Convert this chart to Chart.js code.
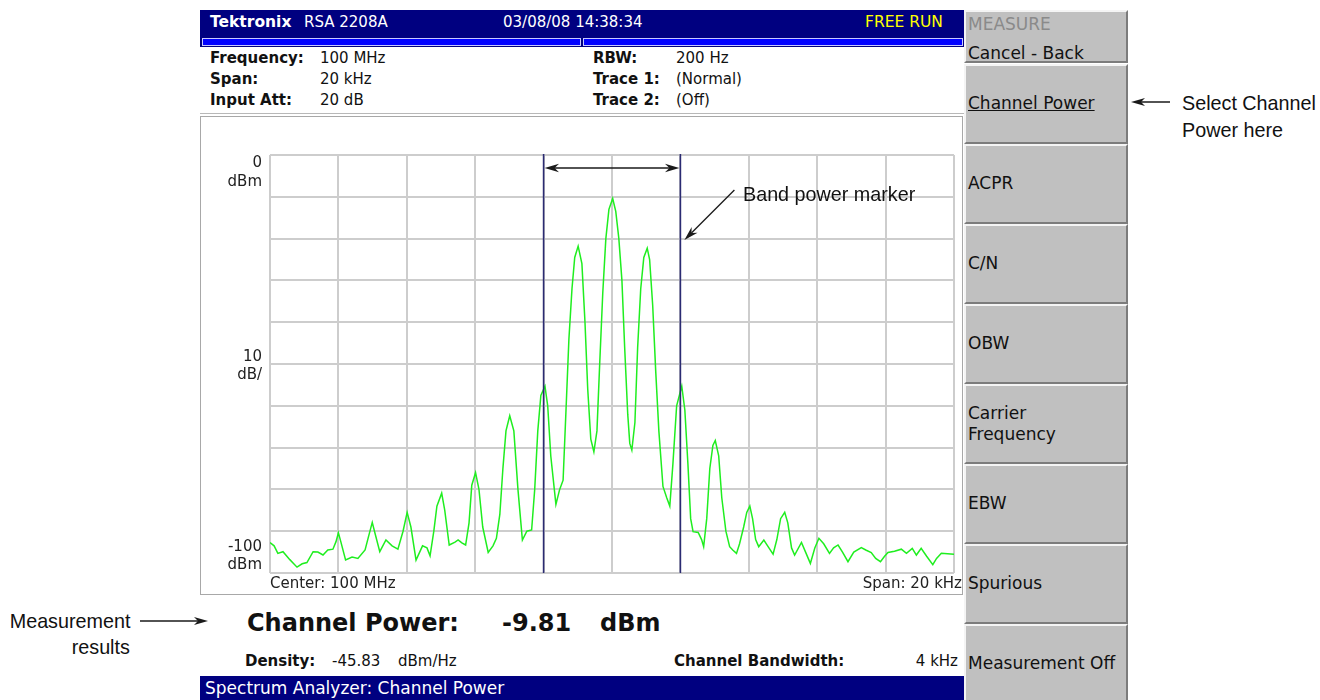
<!DOCTYPE html>
<html>
<head>
<meta charset="utf-8">
<script src="https://cdn.jsdelivr.net/npm/chart.js@4.4.1/dist/chart.umd.min.js"></script>
<style>
body{margin:0;background:#fff;width:1320px;height:700px;position:relative;overflow:hidden;font-family:"DejaVu Sans",sans-serif;color:#111;}
.t{position:absolute;white-space:nowrap;line-height:1;}
.b{font-weight:bold;}
.bar{position:absolute;background:#000080;}
.btn{position:absolute;left:964px;width:164px;background:#c0c0c0;box-sizing:border-box;border-top:2px solid #f4f4f4;border-left:2px solid #f4f4f4;border-right:2px solid #7c7c7c;border-bottom:2px solid #7c7c7c;display:flex;align-items:center;}
.btn span{margin-left:2px;font-size:17px;line-height:1.25;color:#111;}
.ann{position:absolute;white-space:nowrap;font-family:"Liberation Sans",sans-serif;font-size:21px;line-height:1;color:#111;transform:scaleX(0.94);transform-origin:left center;}
.annr{transform-origin:right center;}
.info{font-size:15px;}
#frame{position:absolute;left:200px;top:116px;width:761px;height:477px;border:1px solid #a8a8a8;background:#fff;}
#diagram{position:absolute;left:202px;top:118px;}
</style>
</head>
<body>
<!-- title bar -->
<div class="bar" style="left:200px;top:10px;width:764px;height:37px;"></div>
<div style="position:absolute;left:202px;top:38px;width:377px;height:6px;background:#0000ff;border:1px solid #c8c8ff;"></div>
<div style="position:absolute;left:583px;top:38px;width:378px;height:6px;background:#0000ff;border:1px solid #c8c8ff;"></div>
<div class="t b" style="left:210px;top:15px;font-size:15.5px;color:#fff;">Tektronix</div>
<div class="t" style="left:304px;top:15px;font-size:15px;color:#fff;">RSA 2208A</div>
<div class="t" style="left:503px;top:15px;font-size:15px;color:#fff;">03/08/08 14:38:34</div>
<div class="t" style="left:865px;top:15px;font-size:15.5px;color:#ffff00;">FREE RUN</div>

<!-- info panel -->
<div class="t info b" style="left:210px;top:51px;">Frequency:</div>
<div class="t info" style="left:320px;top:51px;">100 MHz</div>
<div class="t info b" style="left:210px;top:72px;">Span:</div>
<div class="t info" style="left:320px;top:72px;">20 kHz</div>
<div class="t info b" style="left:210px;top:93px;">Input Att:</div>
<div class="t info" style="left:320px;top:93px;">20 dB</div>
<div class="t info b" style="left:593px;top:51px;">RBW:</div>
<div class="t info" style="left:676px;top:51px;">200 Hz</div>
<div class="t info b" style="left:593px;top:72px;">Trace 1:</div>
<div class="t info" style="left:676px;top:72px;">(Normal)</div>
<div class="t info b" style="left:593px;top:93px;">Trace 2:</div>
<div class="t info" style="left:676px;top:93px;">(Off)</div>
<div style="position:absolute;left:200px;top:113px;width:764px;height:1px;background:#b8b8b8;"></div>

<!-- graph -->
<div id="frame"></div>
<canvas id="diagram" width="760" height="476"></canvas>
<div class="t" style="left:270px;top:576px;font-size:15px;color:#222;">Center: 100 MHz</div>
<div class="t" style="right:358px;top:576px;font-size:15px;color:#222;">Span: 20 kHz</div>

<!-- measurement results -->
<div class="t b" style="left:247px;top:611px;font-size:24px;">Channel Power:</div>
<div class="t b" style="left:502px;top:611px;font-size:24px;">-9.81</div>
<div class="t b" style="left:600px;top:611px;font-size:24px;">dBm</div>
<div class="t b" style="left:245px;top:654px;font-size:15px;">Density:</div>
<div class="t" style="left:332px;top:654px;font-size:15px;">-45.83</div>
<div class="t" style="left:398px;top:654px;font-size:15px;">dBm/Hz</div>
<div class="t b" style="left:674px;top:654px;font-size:15px;">Channel Bandwidth:</div>
<div class="t" style="right:362px;top:654px;font-size:15px;">4 kHz</div>
<div class="bar" style="left:200px;top:676px;width:764px;height:24px;"></div>
<div class="t" style="left:205px;top:680px;font-size:17px;color:#fff;">Spectrum Analyzer: Channel Power</div>

<!-- side menu -->
<div class="btn" style="top:10px;height:53px;display:block;">
  <div class="t" style="left:2px;top:4px;font-size:17px;color:#8a8a8a;">MEASURE</div>
  <div class="t" style="left:2px;top:33px;font-size:17px;color:#111;">Cancel - Back</div>
</div>
<div class="btn" style="top:64px;height:80px;"><span style="text-decoration:underline;">Channel Power</span></div>
<div class="btn" style="top:144px;height:80px;"><span>ACPR</span></div>
<div class="btn" style="top:224px;height:80px;"><span>C/N</span></div>
<div class="btn" style="top:304px;height:80px;"><span>OBW</span></div>
<div class="btn" style="top:384px;height:80px;"><span>Carrier<br>Frequency</span></div>
<div class="btn" style="top:464px;height:80px;"><span>EBW</span></div>
<div class="btn" style="top:544px;height:80px;"><span>Spurious</span></div>
<div class="btn" style="top:624px;height:80px;"><span>Measurement Off</span></div>

<!-- callouts -->
<div class="ann" style="left:1182px;top:92px;">Select Channel</div>
<div class="ann" style="left:1182px;top:119px;">Power here</div>
<div class="ann annr" style="right:1190px;top:610px;">Measurement</div>
<div class="ann annr" style="right:1190px;top:636px;">results</div>
<div class="ann" style="left:743px;top:183px;">Band power marker</div>
<svg style="position:absolute;left:0;top:0;" width="1320" height="700">
  <line x1="1170" y1="102" x2="1140" y2="102" stroke="#1a1a1a" stroke-width="1.5"/>
  <polygon points="1131,102 1145,98 1141,102 1145,106" fill="#1a1a1a"/>
  <line x1="140" y1="621" x2="198" y2="621" stroke="#1a1a1a" stroke-width="1.5"/>
  <polygon points="208,621 194,617 198,621 194,625" fill="#1a1a1a"/>
</svg>

<script>
// trace, kHz offset from center vs dBm
const freqKHz = [
  -10.00, -9.88, -9.77, -9.62, -9.42, -9.21, -9.06, -8.92, -8.74, -8.60,
  -8.45, -8.31, -8.16, -8.07, -8.00, -7.93, -7.79, -7.60, -7.43, -7.22,
  -7.11, -7.01, -6.93, -6.79, -6.61, -6.43, -6.26, -6.11, -5.99, -5.88,
  -5.73, -5.54, -5.41, -5.32, -5.21, -5.12, -4.98, -4.89, -4.76, -4.59,
  -4.50, -4.39, -4.28, -4.18, -4.10, -3.99, -3.89, -3.78, -3.62, -3.48,
  -3.38, -3.28, -3.19, -3.10, -2.99, -2.87, -2.75, -2.62, -2.49, -2.35,
  -2.26, -2.17, -2.08, -1.96, -1.88, -1.79, -1.64, -1.53, -1.43, -1.35,
  -1.26, -1.17, -1.09, -0.99, -0.88, -0.79, -0.71, -0.62, -0.53, -0.44,
  -0.36, -0.27, -0.18, -0.09, 0.02, 0.11, 0.20, 0.29, 0.37, 0.46,
  0.52, 0.58, 0.67, 0.75, 0.84, 0.93, 1.03, 1.10, 1.19, 1.28,
  1.37, 1.49, 1.60, 1.69, 1.78, 1.89, 2.04, 2.13, 2.22, 2.30,
  2.37, 2.52, 2.62, 2.68, 2.77, 2.86, 2.95, 3.02, 3.12, 3.21,
  3.33, 3.44, 3.53, 3.64, 3.73, 3.85, 3.94, 4.03, 4.11, 4.20,
  4.29, 4.44, 4.55, 4.71, 4.82, 4.93, 5.05, 5.14, 5.25, 5.34,
  5.54, 5.66, 5.80, 5.93, 6.05, 6.19, 6.36, 6.48, 6.61, 6.74,
  6.90, 7.07, 7.29, 7.42, 7.58, 7.71, 7.85, 7.97, 8.07, 8.26,
  8.46, 8.61, 8.78, 8.90, 9.04, 9.20, 9.38, 9.49, 9.63, 9.81,
  10.00
];
const traceDbm = [
  -92.7, -93.5, -95.3, -94.9, -96.8, -98.6, -97.8, -97.5, -94.9, -95.0,
  -95.7, -94.5, -94.3, -92.5, -90.4, -92.5, -96.9, -96.2, -96.5, -94.5,
  -91.0, -87.9, -90.5, -94.9, -92.1, -93.5, -94.3, -90.0, -85.5, -89.0,
  -96.9, -93.5, -94.0, -95.9, -90.0, -84.0, -80.9, -85.0, -93.3, -92.6,
  -92.1, -92.8, -93.3, -88.0, -79.0, -76.0, -80.0, -89.0, -95.1, -93.5,
  -91.7, -86.0, -75.0, -66.0, -62.4, -66.0, -80.0, -92.1, -90.0, -89.7,
  -80.0, -66.0, -57.5, -55.3, -60.0, -72.0, -83.6, -80.0, -77.8, -62.0,
  -44.0, -32.0, -24.5, -21.8, -26.0, -40.0, -56.0, -68.0, -71.0, -66.0,
  -50.0, -33.0, -20.0, -13.0, -10.4, -13.5, -20.0, -30.0, -46.0, -62.0,
  -69.0, -70.6, -64.0, -46.0, -32.0, -24.5, -22.3, -25.0, -36.0, -52.0,
  -66.0, -79.3, -82.0, -84.0, -74.0, -60.0, -55.3, -61.0, -74.0, -87.0,
  -90.1, -90.3, -92.0, -93.7, -87.0, -75.0, -69.5, -68.3, -72.0, -82.0,
  -90.0, -93.7, -94.5, -95.3, -93.0, -89.0, -85.5, -84.0, -87.0, -92.0,
  -93.7, -92.1, -93.5, -95.5, -92.0, -87.0, -85.5, -88.0, -94.0, -95.7,
  -92.7, -95.0, -97.7, -94.0, -91.7, -93.0, -95.3, -94.0, -93.3, -95.0,
  -97.3, -95.0, -93.9, -94.5, -95.1, -96.5, -97.3, -96.0, -95.1, -94.8,
  -94.3, -95.3, -94.1, -95.7, -94.1, -96.0, -98.0, -96.5, -95.3, -95.4,
  -95.5
];
const markerKHz = [-2, 2];
const yLabelTop = ["0", "dBm"];
const yLabelMid = ["10", "dB/"];
const yLabelBottom = ["-100", "dBm"];

function arrowHead(c, x, y, ang) {
    c.beginPath();
    c.moveTo(x, y);
    c.lineTo(x - 15 * Math.cos(ang - 0.28), y - 15 * Math.sin(ang - 0.28));
    c.lineTo(x - 10 * Math.cos(ang), y - 10 * Math.sin(ang));
    c.lineTo(x - 15 * Math.cos(ang + 0.28), y - 15 * Math.sin(ang + 0.28));
    c.closePath();
    c.fill();
}

const markers = {
    id: "markers",
    afterDatasetsDraw(chart) {
        const c = chart.ctx, a = chart.chartArea;
        const xs = chart.scales.x, ys = chart.scales.y;
        const m1 = xs.getPixelForValue(markerKHz[0]);
        const m2 = xs.getPixelForValue(markerKHz[1]);
        c.save();
        c.strokeStyle = "#2b2b72";
        c.lineWidth = 1.6;
        [m1, m2].forEach(function (x) {
            c.beginPath();
            c.moveTo(x, a.top - 1);
            c.lineTo(x, a.bottom);
            c.stroke();
        });
        // double arrow between markers
        const ay = a.top + 13;
        c.strokeStyle = "#1a1a1a";
        c.fillStyle = "#1a1a1a";
        c.lineWidth = 1.3;
        c.beginPath();
        c.moveTo(m1 + 6, ay);
        c.lineTo(m2 - 6, ay);
        c.stroke();
        arrowHead(c, m1 + 1, ay, Math.PI);
        arrowHead(c, m2 - 1, ay, 0);
        // pointer to the marker
        const sx = m2 + 54, sy = a.top + 35, ex = m2 + 4, ey = a.top + 85;
        c.beginPath();
        c.moveTo(sx, sy);
        c.lineTo(ex + 7, ey - 7);
        c.stroke();
        arrowHead(c, ex, ey, Math.atan2(ey - sy, ex - sx));
        // y labels
        c.fillStyle = "#222";
        c.font = "15px 'DejaVu Sans'";
        c.textAlign = "right";
        c.textBaseline = "middle";
        const lx = a.left - 8;
        c.fillText(yLabelTop[0], lx, ys.getPixelForValue(0) + 8);
        c.fillText(yLabelTop[1], lx, ys.getPixelForValue(0) + 27);
        c.fillText(yLabelMid[0], lx, ys.getPixelForValue(-50) - 7);
        c.fillText(yLabelMid[1], lx, ys.getPixelForValue(-50) + 11);
        c.fillText(yLabelBottom[0], lx, ys.getPixelForValue(-100) - 26);
        c.fillText(yLabelBottom[1], lx, ys.getPixelForValue(-100) - 8);
        c.restore();
    }
};

const ctx = document.getElementById("diagram");

new Chart(ctx, {
    type: "line",
    data: {
        datasets: [
            {
                label: "Trace 1",
                data: freqKHz.map((f, i) => ({ x: f, y: traceDbm[i] })),
                borderColor: "#1fee1f",
                borderWidth: 1.5,
                pointRadius: 0,
                tension: 0,
            },
        ],
    },
    options: {
        responsive: false,
        animation: false,
        layout: { padding: { left: 68, right: 8, top: 37, bottom: 21 } },
        plugins: { legend: { display: false }, tooltip: { enabled: false } },
        scales: {
            x: {
                type: "linear",
                min: -10,
                max: 10,
                ticks: { stepSize: 2, display: false },
                grid: { color: "#cdcdcd", lineWidth: 2, drawTicks: false },
                border: { display: false },
            },
            y: {
                min: -100,
                max: 0,
                ticks: { stepSize: 10, display: false },
                grid: { color: "#cdcdcd", lineWidth: 2, drawTicks: false },
                border: { display: false },
            },
        },
    },
    plugins: [markers],
});
</script>
</body>
</html>
